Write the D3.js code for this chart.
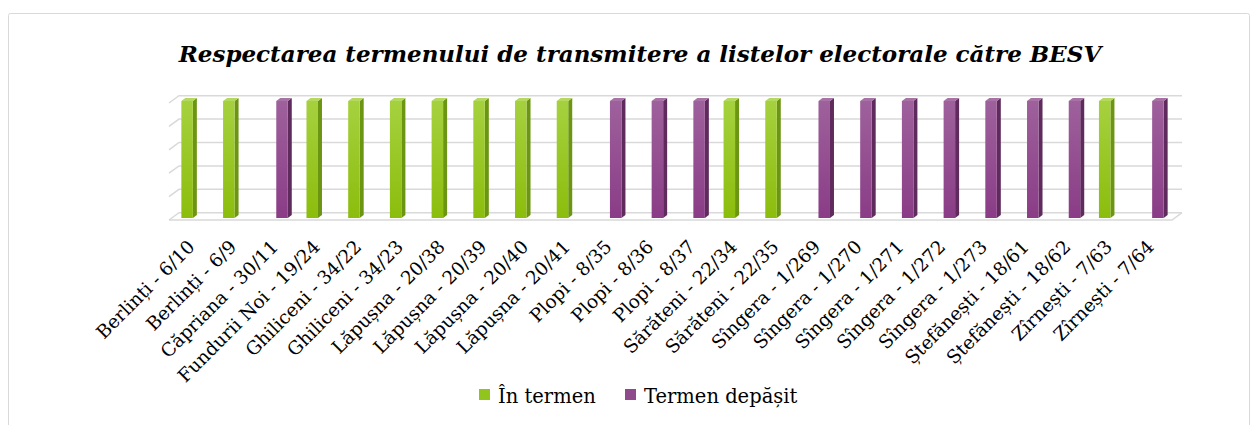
<!DOCTYPE html>
<html>
<head>
<meta charset="utf-8">
<script src="https://cdn.jsdelivr.net/npm/d3@7"></script>
<style>
  body { margin: 0; background: #fff; }
  text { font-family: "DejaVu Serif", serif; }
</style>
</head>
<body>
<script>
// categories (secții de votare) and the two series
var categories = ["Berlinți - 6/10", "Berlinți - 6/9", "Căpriana - 30/11", "Fundurii Noi - 19/24",
    "Ghiliceni - 34/22", "Ghiliceni - 34/23", "Lăpușna - 20/38", "Lăpușna - 20/39",
    "Lăpușna - 20/40", "Lăpușna - 20/41", "Plopi - 8/35", "Plopi - 8/36", "Plopi - 8/37",
    "Sărăteni - 22/34", "Sărăteni - 22/35", "Sîngera - 1/269", "Sîngera - 1/270",
    "Sîngera - 1/271", "Sîngera - 1/272", "Sîngera - 1/273", "Ștefănești - 18/61",
    "Ștefănești - 18/62", "Zîrnești - 7/63", "Zîrnești - 7/64"];
var seriesNames = ["În termen", "Termen depășit"];
var inTermen      = [1,1,0,1,1,1,1,1,1,1,0,0,0,1,1,0,0,0,0,0,0,0,1,0];
var termenDepasit = [0,0,1,0,0,0,0,0,0,0,1,1,1,0,0,1,1,1,1,1,1,1,0,1];
var yTicks = [0, 0.2, 0.4, 0.6, 0.8, 1];

var width = 1258, height = 425;
var depth = {dx: 10, dy: -7.3};   // 3d wall depth
var bar3d = {dx: 4, dy: -3};      // bar side / top

var svg = d3.select("body").append("svg")
    .attr("width", width)
    .attr("height", height);

// gradients
var defs = svg.append("defs");
function grad(id, c1, c2){
    var g = defs.append("linearGradient").attr("id", id)
        .attr("x1", 0).attr("y1", 0).attr("x2", 0).attr("y2", 1);
    g.append("stop").attr("offset", "0%").attr("stop-color", c1);
    g.append("stop").attr("offset", "100%").attr("stop-color", c2);
}
grad("gFront", "#a6d13f", "#8bbd0c");
grad("pFront", "#9e619c", "#8a3c86");

var colors = {
    "În termen": {front: "url(#gFront)", side: "#6b9512", top: "#b3d95e", legend: "#92c41e"},
    "Termen depășit": {front: "url(#pFront)", side: "#5f2b5d", top: "#a872a6", legend: "#8f4a8c"}
};

// chart border
svg.append("rect")
    .attr("x", 8.5).attr("y", 13.5)
    .attr("width", 1241).attr("height", 420)
    .attr("rx", 2)
    .attr("fill", "#fff")
    .attr("stroke", "#d9d9d9");

// title
svg.append("text")
    .attr("x", 640).attr("y", 62)
    .attr("text-anchor", "middle")
    .style("font-weight", "bold")
    .style("font-style", "italic")
    .style("font-size", "23px")
    .text("Respectarea termenului de transmitere a listelor electorale către BESV");

// scales
var x = d3.scaleBand().domain(categories).range([172, 1173]);
var xs = d3.scaleBand().domain(seriesNames).range([-11.5, 11.5]);
var y = d3.scaleLinear().domain([0, 1]).range([218, 101]);

// back wall gridlines + left wall diagonals
var grid = svg.append("g").attr("stroke", "#d9d9d9").attr("stroke-width", 1.5).attr("fill", "none");
var x0 = 169, x1 = 1172;
yTicks.forEach(function(t){
    var yb = y(t) - 5.3;
    grid.append("path")
        .attr("d", "M" + x0 + "," + (yb - depth.dy) + "L" + (x0 + depth.dx) + "," + yb + "L" + (x1 + depth.dx) + "," + yb);
});
// floor front edge
grid.append("path")
    .attr("d", "M" + x0 + "," + (y(0) - 5.3 - depth.dy) + "L" + x1 + "," + (y(0) - 5.3 - depth.dy) +
        "L" + (x1 + depth.dx) + "," + (y(0) - 5.3));

// bars
var data = [];
categories.forEach(function(c, i){
    data.push({cat: c, s: seriesNames[0], v: inTermen[i]});
    data.push({cat: c, s: seriesNames[1], v: termenDepasit[i]});
});
data = data.filter(function(d){ return d.v > 0; });

var bars = svg.append("g").selectAll("g.bar")
    .data(data).enter().append("g").attr("class", "bar");

bars.each(function(d){
    var g = d3.select(this);
    var bx = x(d.cat) + x.bandwidth() / 2 + xs(d.s);
    var bw = xs.bandwidth();
    var yt = y(d.v), yb = y(0);
    var c = colors[d.s];
    // side
    g.append("path")
        .attr("d", "M" + (bx + bw) + "," + yt + "L" + (bx + bw + bar3d.dx) + "," + (yt + bar3d.dy) +
            "L" + (bx + bw + bar3d.dx) + "," + (yb + bar3d.dy) + "L" + (bx + bw) + "," + yb + "Z")
        .attr("fill", c.side);
    // top
    g.append("path")
        .attr("d", "M" + bx + "," + yt + "L" + (bx + bar3d.dx) + "," + (yt + bar3d.dy) +
            "L" + (bx + bw + bar3d.dx) + "," + (yt + bar3d.dy) + "L" + (bx + bw) + "," + yt + "Z")
        .attr("fill", c.top);
    // front
    g.append("rect")
        .attr("x", bx).attr("y", yt)
        .attr("width", bw).attr("height", yb - yt)
        .attr("fill", c.front);
});

// category labels
svg.append("g").selectAll("text")
    .data(categories).enter().append("text")
    .attr("transform", function(d){
        return "translate(" + (x(d) + x.bandwidth() / 2 + 3) + ",248) rotate(-45)";
    })
    .attr("text-anchor", "end")
    .style("font-size", "18.5px")
    .text(function(d){ return d; });

// legend
var legend = svg.append("g");
var legendX = [479, 625];
seriesNames.forEach(function(s, i){
    legend.append("rect")
        .attr("x", legendX[i]).attr("y", 389)
        .attr("width", 11).attr("height", 11)
        .attr("fill", colors[s].legend);
    legend.append("text")
        .attr("x", legendX[i] + 19).attr("y", 403)
        .style("font-size", "19.5px")
        .text(s);
});
</script>
</body>
</html>
